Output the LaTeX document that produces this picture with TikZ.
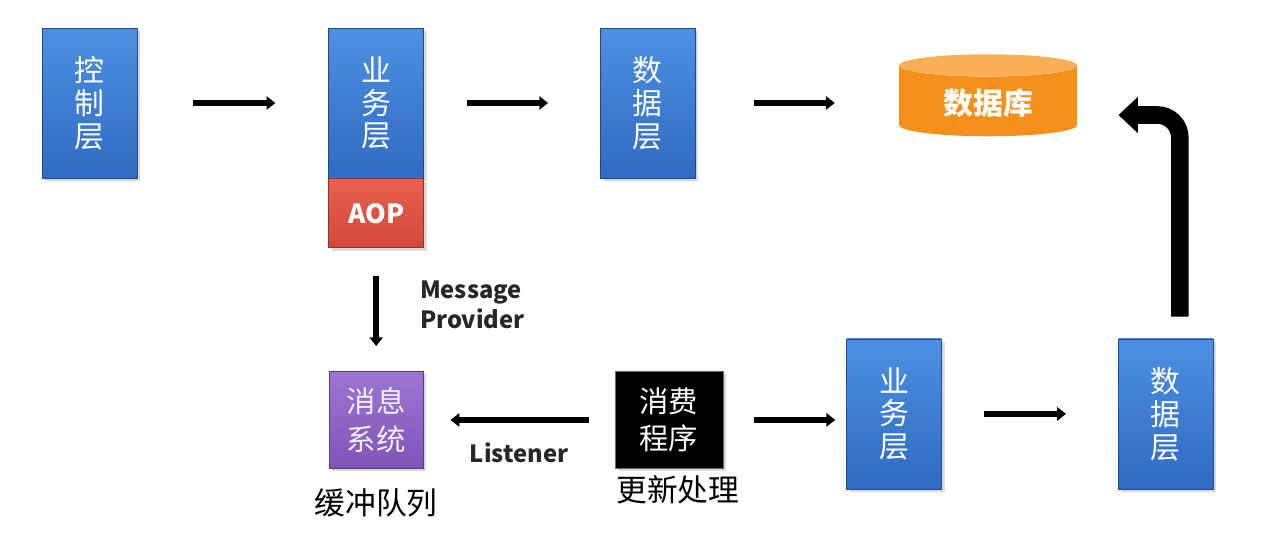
\documentclass[tikz,border=0pt]{standalone}
\usepackage{fontspec}
\setmainfont{Noto Sans CJK SC}
\usetikzlibrary{positioning,arrows.meta,shapes.geometric,shadows}

\definecolor{layerblue}{HTML}{2F6BC2}
\definecolor{layertop}{HTML}{4D90E2}
\definecolor{aopred}{HTML}{D4473A}
\definecolor{aoptop}{HTML}{E8604E}
\definecolor{mqpurple}{HTML}{7F54B8}
\definecolor{mqtop}{HTML}{9C76D2}
\definecolor{dborange}{HTML}{F5901A}
\definecolor{dbtop}{HTML}{FAAE55}

\begin{document}
\begin{tikzpicture}[
    >={Triangle[length=5pt,width=7.5pt]},
    boxshadow/.style={drop shadow={opacity=0.3,shadow xshift=0.6mm,shadow yshift=-0.6mm}},
    layer/.style={rectangle,boxshadow,draw=layerblue!70!black,top color=layertop,bottom color=layerblue,text=white,align=center,minimum width=1.9cm,minimum height=3cm,font=\fontsize{17}{18.7}\selectfont},
    aopbox/.style={rectangle,boxshadow,draw=aopred!70!black,top color=aoptop,bottom color=aopred,text=white,minimum width=1.9cm,minimum height=1.38cm,font=\bfseries\fontsize{15}{18}\selectfont},
    smallbox/.style={rectangle,boxshadow,align=center,minimum height=1.94cm,font=\fontsize{16.7}{21.5}\selectfont},
    caption/.style={font=\fontsize{17.5}{20}\selectfont},
    label/.style={text=black!85,font=\bfseries\fontsize{13.5}{17}\selectfont,align=left},
    arrow/.style={->,line width=3.4pt},
    bigarrow/.style={-{Triangle[length=11pt,width=20pt]},line width=10pt,rounded corners=0.45cm}
]
\useasboundingbox (0,0) rectangle (25.38,-11.16);

% top row
\node[layer] (ctrl) at (1.79,-2.06) {控\\制\\层};
\node[layer,right=3.82cm of ctrl] (svc) {业\\务\\层};
\node[aopbox,below=0pt of svc] (aop) {AOP};
\node[layer,right=3.52cm of svc] (dao) {数\\据\\层};
\node[cylinder,shape border rotate=90,aspect=0.22,cylinder uses custom fill,cylinder body fill=dborange,cylinder end fill=dbtop,text=white,minimum width=3.56cm,minimum height=1.64cm,font=\bfseries\fontsize{17}{20}\selectfont,right=4.06cm of dao,yshift=0.0cm] (db) {数据库};

% bottom row
\node[smallbox,top color=mqtop,bottom color=mqpurple,draw=mqpurple!70!black,text=white!90!mqpurple,minimum width=1.88cm,below=2.46cm of aop] (mq) {消息\\系统};
\node[smallbox,fill=black,draw=black!60,text=white,minimum width=2.16cm,right=3.82cm of mq] (consumer) {消费\\程序};
\node[layer,right=2.46cm of consumer,yshift=0.12cm] (svc2) {业\\务\\层};
\node[layer,right=3.52cm of svc2] (dao2) {数\\据\\层};

\node[caption,below=0.28cm of mq] (mqcap) {缓冲队列};
\node[caption,below=0.02cm of consumer,xshift=0.18cm] (concap) {更新处理};

% arrows
\draw[arrow,shorten <=1.12cm,shorten >=1.06cm] (ctrl) -- (svc);
\draw[arrow,shorten <=0.86cm,shorten >=1.04cm] (svc) -- (dao);
\draw[arrow,shorten <=1.16cm,shorten >=1.28cm] (dao.east) -- (dao.east -| db.west);
\draw[arrow,shorten <=0.56cm,shorten >=0.5cm] (aop) -- (mq)
    node[label,midway,right=0.7cm,yshift=0.1cm] (mp) {Message\\Provider};
\draw[arrow,shorten <=0.52cm,shorten >=0.54cm] (consumer) -- (mq)
    node[label,midway,below=0.28cm] (lis) {Listener};
\draw[arrow,shorten <=0.62cm,shorten >=0.22cm] (consumer) -- (consumer -| svc2.west);
\draw[arrow,shorten <=0.84cm,shorten >=1.04cm] (svc2) -- (dao2);
\draw[bigarrow] ([xshift=0.28cm,yshift=0.44cm]dao2.north) |- ([xshift=0.82cm,yshift=-0.24cm]db.east);

\end{tikzpicture}
\end{document}
